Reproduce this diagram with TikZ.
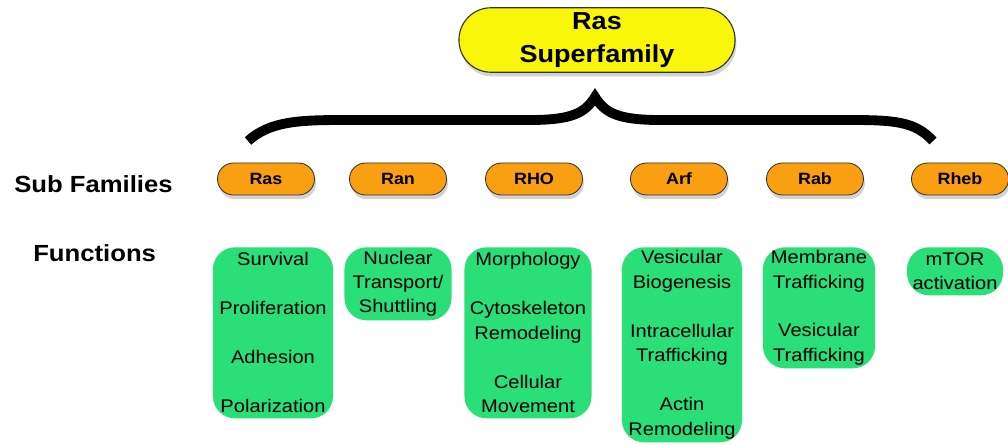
\documentclass[tikz,border=0pt]{standalone}
\usepackage{fontspec}
\setmainfont{Liberation Sans}[FakeStretch=1.1]
\usepackage{xcolor}
\usetikzlibrary{positioning,shadows}

\definecolor{superyellow}{RGB}{250,246,10}
\definecolor{suborange}{RGB}{250,158,18}
\definecolor{fungreen}{RGB}{42,222,120}

\begin{document}
\begin{tikzpicture}[x=0.025cm, y=-0.025cm,
                super node/.style={draw=black!80, fill=superyellow, thick, rounded corners=0.8cm,
                  minimum width=6.9cm, minimum height=1.6cm, align=center,
                  font=\fontsize{17.5}{23.5}\selectfont\bfseries,
                  drop shadow={shadow xshift=1pt, shadow yshift=-3pt, opacity=0.35}},
                sub node/.style={draw=black!80, fill=suborange, semithick, rounded corners=0.4cm,
                  minimum width=2.425cm, minimum height=0.8cm,
                  font=\fontsize{11.6}{14}\selectfont\bfseries,
                  drop shadow={shadow xshift=1pt, shadow yshift=-3pt, opacity=0.35}},
                fun node/.style={fill=fungreen, rounded corners=0.55cm, anchor=north, align=center,
                  inner xsep=0pt, inner ysep=0pt,
                  font=\fontsize{13}{17.4}\selectfont},
                row label/.style={anchor=base west, inner sep=0pt,
                  font=\fontsize{16.6}{20}\selectfont\bfseries}]

  \useasboundingbox (0,0) rectangle (1008,446);

  % top of the tree
  \node[super node] (super) at (597,40) {Ras\\Superfamily};

  % brace
  \coordinate (tip) at (595,97);
  \draw[line width=7pt] (248,141) .. controls (270,121) and (300,120) .. (345,120)
    -- (530,120) .. controls (572,120) and (585,113) .. (tip)
    .. controls (605,113) and (618,120) .. (660,120)
    -- (848,120) .. controls (893,120) and (915,121) .. (933,141);

  % row labels
  \node[row label] (sublab) at (14,193) {Sub Families};
  \node[row label] (funlab) at (33,262) {Functions};

  % sub families
  \node[sub node] (ras)  at (266,179) {Ras};
  \node[sub node] (ran)  at (398,179) {Ran};
  \node[sub node] (rho)  at (534,179) {RHO};
  \node[sub node] (arf)  at (679,179) {Arf};
  \node[sub node] (rab)  at (815,179) {Rab};
  \node[sub node] (rheb) at (960,179) {Rheb};

  % functions
  \node[fun node, minimum width=3cm, minimum height=4.275cm] (fras) at (273,247)
    {Survival\\[17.4pt]Proliferation\\[17.4pt]Adhesion\\[17.4pt]Polarization};
  \node[fun node, minimum width=2.675cm, minimum height=1.825cm] (fran) at (398,247)
    {Nuclear\\Transport/\\Shuttling};
  \node[fun node, minimum width=3.175cm, minimum height=4.275cm] (frho) at (528,247)
    {Morphology\\[17.4pt]Cytoskeleton\\Remodeling\\[17.4pt]Cellular\\Movement};
  \node[fun node, minimum width=3cm, minimum height=4.875cm] (farf) at (682,247)
    {Vesicular\\Biogenesis\\[17.4pt]Intracellular\\Trafficking\\[17.4pt]Actin\\Remodeling};
  \node[fun node, minimum width=2.8cm, minimum height=3.025cm] (frab) at (819,247)
    {Membrane\\Trafficking\\[17.4pt]Vesicular\\Trafficking};
  \node[fun node, minimum width=2.4cm, minimum height=1.2cm] (frheb) at (955,247)
    {mTOR\\activation};
\end{tikzpicture}
\end{document}
